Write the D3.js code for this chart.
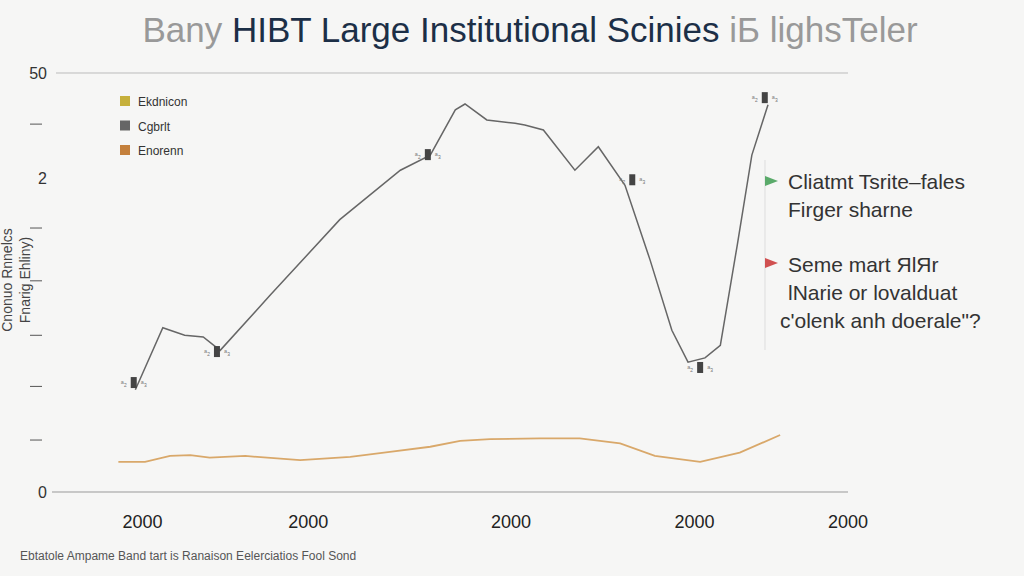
<!DOCTYPE html><html><head><meta charset="utf-8"><script src="https://cdn.jsdelivr.net/npm/d3@7"></script>
<style>body{margin:0;background:#f6f6f5}text{font-family:"Liberation Sans",Arial,sans-serif}</style></head><body><svg id="c" width="1024" height="576"></svg><script>
const grayX=[11.8,15.2,17.9,20.2,22.3,28.5,37.1,44.6,48.3,51.4,52.6,55.3,58.8,60.0,62.3,66.2,69.1,72.4,75.5,78.2,80.2,82.3,84.2,86.3,88.1,90.1];
const grayY=[12.2,19.6,18.7,18.5,16.9,23.5,32.5,38.4,40.2,45.6,46.3,44.4,44.0,43.8,43.2,38.4,41.2,36.6,27.7,19.3,15.5,16.0,17.5,29.5,40.2,46.2];
const orX=[9.7,13.0,16.1,18.6,21.0,25.4,32.2,38.4,43.3,48.3,52.0,55.7,61.9,66.8,71.8,76.1,81.7,86.6,91.6];
const orY=[3.6,3.6,4.3,4.4,4.1,4.3,3.8,4.2,4.8,5.4,6.1,6.3,6.4,6.4,5.8,4.3,3.6,4.7,6.8];
const markerX=[11.6,21.9,48.0,73.3,81.7,89.7];
const markerY=[13.0,16.7,40.2,37.2,14.8,47.0];
const xTicks=[12.7,33.2,58.3,81.0,100];const xTickLabels=["2000","2000","2000","2000","2000"];
const yTicks=[0,6.2,12.6,18.7,25.2,31.5,37.5,43.9,50];const yTickLabels={0:"0",37.5:"2",50:"50"};
const legend=[["Ekdnicon","#c6b03c"],["Cgbrlt","#666"],["Enorenn","#c4803c"]];
const svg=d3.select("#c");
const x=d3.scaleLinear().domain([0,100]).range([40,848]);
const y=d3.scaleLinear().domain([0,50]).range([492,73]);
svg.append("line").attr("x1",56).attr("x2",848).attr("y1",73).attr("y2",73).attr("stroke","#bbb");
svg.append("line").attr("x1",52).attr("x2",848).attr("y1",492).attr("y2",492).attr("stroke","#999");
yTicks.forEach(t=>{if(yTickLabels[t]!==undefined)svg.append("text").attr("x",47).attr("y",y(t)+6).attr("text-anchor","end").attr("font-size",16).attr("fill","#333").text(yTickLabels[t]);
 else svg.append("line").attr("x1",30).attr("x2",42).attr("y1",y(t)).attr("y2",y(t)).attr("stroke","#555");});
xTicks.forEach((t,i)=>svg.append("text").attr("x",x(t)).attr("y",528).attr("text-anchor","middle").attr("font-size",18).attr("fill","#222").text(xTickLabels[i]));
const ln=d3.line().x(d=>x(d[0])).y(d=>y(d[1]));
svg.append("path").attr("d",ln(d3.zip(orX,orY))).attr("fill","none").attr("stroke","#d9a86a").attr("stroke-width",1.8);
svg.append("path").attr("d",ln(d3.zip(grayX,grayY))).attr("fill","none").attr("stroke","#666").attr("stroke-width",1.5);
markerX.forEach((m,i)=>{const g=svg.append("g").attr("transform",`translate(${x(m)},${y(markerY[i])})`);
 g.append("rect").attr("x",-3).attr("y",-6).attr("width",6).attr("height",11).attr("fill","#444");
 g.append("text").attr("x",-13).attr("y",3).attr("font-size",8).attr("fill","#777").text("ᵃ₂");
 g.append("text").attr("x",7).attr("y",3).attr("font-size",8).attr("fill","#777").text("ᵃ₃");});
legend.forEach((l,i)=>{svg.append("rect").attr("x",120).attr("y",96+i*24.5).attr("width",10).attr("height",10).attr("fill",l[1]);
 svg.append("text").attr("x",138).attr("y",106+i*24.5).attr("font-size",12).attr("fill","#333").text(l[0]);});
svg.append("line").attr("x1",765).attr("x2",765).attr("y1",160).attr("y2",350).attr("stroke","#ddd");
svg.append("path").attr("d","M765,176 L778,181 L765,186Z").attr("fill","#5aaa6a");
svg.append("path").attr("d","M765,258 L778,263 L765,268Z").attr("fill","#d05050");
[["Cliatmt Tsrite–fales",189],["Firger sharne",217],["Seme mart ЯlЯr",272],["lNarie or lovalduat",300],["c'olenk anh doerale\"?",328]].forEach(a=>
 svg.append("text").attr("x",a[0].startsWith("c'")?780:788).attr("y",a[1]).attr("font-size",21).attr("fill","#333").text(a[0]));
const tt=svg.append("text").attr("x",530).attr("y",42).attr("text-anchor","middle").attr("font-size",35);
tt.append("tspan").attr("fill","#999").text("Bany ");
tt.append("tspan").attr("fill","#1c2f47").text("HIBT Large Institutional Scinies ");
tt.append("tspan").attr("fill","#999").text("iБ lighsTeler");
const yt=svg.append("text").attr("transform","translate(12,280) rotate(-90)").attr("text-anchor","middle").attr("font-size",14).attr("fill","#444");
yt.append("tspan").attr("x",0).attr("dy",0).text("Cnonuo Rnnelcs");
yt.append("tspan").attr("x",0).attr("dy",18).text("Fnarig Ehliny)");
svg.append("text").attr("x",20).attr("y",560).attr("font-size",12).attr("fill","#555").text("Ebtatole Ampame Band tart is Ranaison Eelerciatios Fool Sond");
</script></body></html>
